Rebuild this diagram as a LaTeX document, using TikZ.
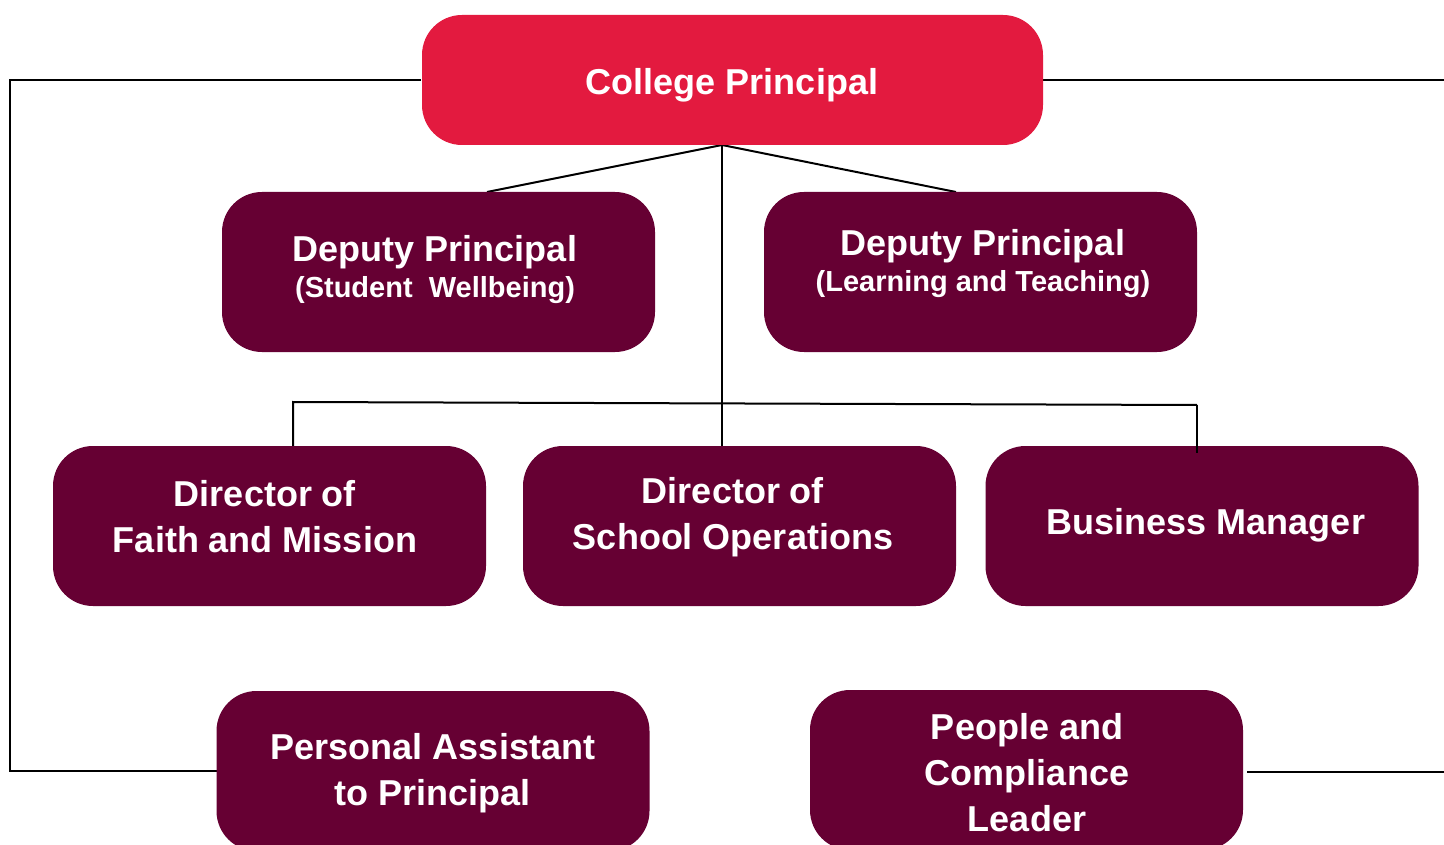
\documentclass[tikz,border=0pt]{standalone}
\usepackage{fontspec}
\setmainfont{Liberation Sans}
\definecolor{crimson}{HTML}{E31A3F}
\definecolor{maroon}{HTML}{660033}
\begin{document}
\begin{tikzpicture}[x=1pt,y=-1pt,
  box/.style={fill=maroon, rounded corners=40pt, minimum width=433pt, minimum height=160pt, inner sep=0pt},
  topbox/.style={fill=crimson, rounded corners=40pt, minimum width=621pt, minimum height=130pt, inner sep=0pt},
  lbl/.style={text=white, align=center, inner sep=0pt, font=\bfseries\fontsize{36}{46}\selectfont},
  subfont/.style={font=\bfseries\fontsize{29}{32}\selectfont},
  link/.style={black, line width=2pt}]
\useasboundingbox (0,0) rectangle (1444,845);
\clip (0,0) rectangle (1444,845);
\fill[white] (0,0) rectangle (1444,845);

% junction coordinates
\coordinate (hub) at (722,145);
\coordinate (busL) at (293,402);
\coordinate (busR) at (1197,405);
\coordinate (leftrail) at (10,80);
\coordinate (rightend) at (1444,80);
\coordinate (pclend) at (1444,772);
\coordinate (bmdrop) at (1197,453);

% connectors behind boxes
\draw[link] (421,80) -- (leftrail) |- (217,771);
\draw[link] (1043,80) -- (rightend);
\draw[link] (1247,772) -- (pclend);
\draw[link] (hub) -- (487,192);
\draw[link] (hub) -- (956,192);
\draw[link] (hub) -- (722,446);
\draw[link] (293,446) -- (busL) -- (busR);

% boxes
\node[topbox] (cp) at (732.5,80) {};
\node[box] (dpsw) at (438.5,272) {};
\node[box] (dplt) at (980.5,272) {};
\node[box] (faith) at (269.5,526) {};
\node[box] (dso) at (739.5,526) {};
\node[box] (bm) at (1202,526) {};
\node[box] (pa) at (433,771) {};
\node[box] (pcl) at (1026.5,770) {};

% drop into Business Manager (overlaps box top as in reference)
\draw[link] (busR) -- (bmdrop);

% texts
\node[lbl] (cpt) at (732,85) {College Principal};
\node[lbl] (dpswt) at (435,252) {Deputy Principal};
\node[lbl,subfont] (dpsws) at (435,290) {(Student\ \ Wellbeing)};
\node[lbl] (dpltt) at (983,246) {Deputy Principal};
\node[lbl,subfont] (dplts) at (983,284) {(Learning and Teaching)};
\node[lbl] (faitht) at (265,517) {Director of\\Faith and Mission};
\node[lbl] (dsot) at (733,517) {Director of\\School Operations};
\node[lbl] (bmt) at (1206,525) {Business Manager};
\node[lbl] (pat) at (433,773) {Personal Assistant\\to Principal};
\node[lbl] (pclt) at (1027,773) {People and\\Compliance\\Leader};
\end{tikzpicture}
\end{document}
